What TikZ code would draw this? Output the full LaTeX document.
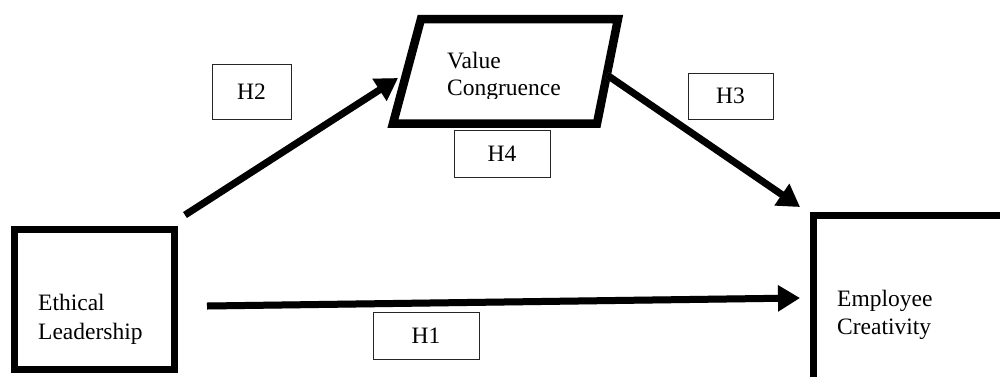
\documentclass[tikz,border=0pt]{standalone}
\usepackage{fontspec}
\setmainfont{Liberation Serif}
\usetikzlibrary{arrows.meta}
\begin{document}
\begin{tikzpicture}[x=1pt,y=-1pt,
  frame/.style={draw=black,line width=7pt,line join=miter},
  hbox/.style={draw=black!85,line width=1pt,inner sep=0pt,
    font=\fontsize{23.5}{28}\selectfont},
  txt/.style={font=\fontsize{23.5}{28.5}\selectfont,inner sep=0pt,anchor=base west},
  link/.style={line width=7pt,-{Triangle[length=22pt,width=25pt]}},
  linkshade/.style={line width=7pt,draw=black!30,opacity=0.6,
    -{Triangle[length=22pt,width=25pt]}}]
\useasboundingbox (0,0) rectangle (1000,376);
\clip (0,0) rectangle (1000,376);

% construct boxes
\draw[frame] (14,229.5) rectangle (174,369.5);
\draw[frame] (1010,215.5) -- (813.5,215.5) -- (813.5,390);
\draw[frame,line width=8.5pt] (421,19) -- (618,19) -- (597,123.5) -- (393,123.5) -- cycle;

% construct labels
\node[txt] (eth1) at (38,310) {Ethical};
\node[txt] (eth2) at (38,339) {Leadership};
\node[txt] (emp1) at (837,306) {Employee};
\node[txt] (emp2) at (837,334) {Creativity};
\begin{scope}
  \clip (430,30) rectangle (600,98);
  \node[txt] (val1) at (447,68) {Value};
  \node[txt] (val2) at (447,95) {Congruence};
\end{scope}

% arrow end points
\coordinate (elA) at (185,215);
\coordinate (vcA) at (398,78);
\coordinate (vcB) at (607,75);
\coordinate (ecA) at (800,207);
\coordinate (elB) at (207,306);
\coordinate (ecB) at (800,298);

% soft shadows under the paths
\begin{scope}[shift={(2,3)}]
  \draw[linkshade] (elA) -- (vcA);
  \draw[linkshade] (vcB) -- (ecA);
  \draw[linkshade] (elB) -- (ecB);
\end{scope}

% paths
\draw[link] (elA) -- (vcA);
\draw[link] (vcB) -- (ecA);
\draw[link] (elB) -- (ecB);

% hypothesis tags
\node[hbox,minimum width=79pt,minimum height=55pt] (h2) at (251.5,91.5) {H2};
\node[hbox,minimum width=96pt,minimum height=47pt] (h4) at (502,153.5) {H4};
\node[hbox,minimum width=85pt,minimum height=46pt] (h3) at (730.5,96) {H3};
\node[hbox,minimum width=106pt,minimum height=47pt] (h1) at (426,335.5) {H1};
\end{tikzpicture}
\end{document}
